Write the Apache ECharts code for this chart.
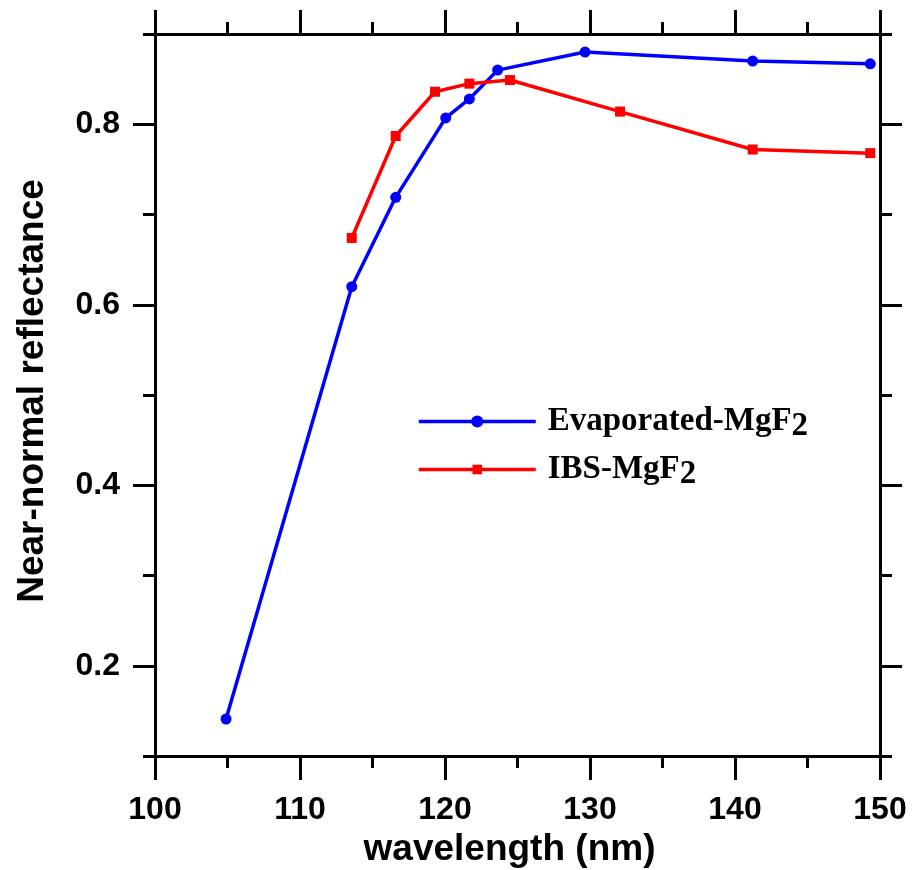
<!DOCTYPE html>
<html><head><meta charset="utf-8">
<script src="https://cdn.jsdelivr.net/npm/echarts@6/dist/echarts.min.js"></script>
<style>html,body{margin:0;padding:0;background:#fff}#c{width:915px;height:870px}</style>
</head><body><div id="c"></div>
<script>
const seriesNames = ['Evaporated-MgF2', 'IBS-MgF2'];
const evapWavelength = [104.9, 113.57, 116.6, 120.05, 121.68, 123.63, 129.66, 141.22, 149.33];
const evapReflectance = [0.141, 0.620, 0.719, 0.807, 0.828, 0.860, 0.880, 0.870, 0.867];
const ibsWavelength = [113.57, 116.6, 119.31, 121.68, 124.48, 132.07, 141.22, 149.33];
const ibsReflectance = [0.674, 0.787, 0.836, 0.845, 0.849, 0.814, 0.772, 0.768];
const yMajorTicks = [0.2, 0.4, 0.6, 0.8];
const yMinorTicks = [0.1, 0.3, 0.5, 0.7, 0.9];

const sans = "'Liberation Sans', Arial, sans-serif";
const serif = "'Liberation Serif', 'Times New Roman', serif";
const axisLine = {show: true, onZero: false, lineStyle: {color: '#000', width: 3}};
const pair = (xs, ys) => xs.map((x, i) => [x, ys[i]]);

const chart = echarts.init(document.getElementById('c'), null, {renderer: 'canvas'});
const legendRich = {
  a: {fontFamily: serif, fontWeight: 'bold', fontSize: 33, color: '#000', padding: [0, 0, 0, 7]},
  b: {fontFamily: serif, fontWeight: 'bold', fontSize: 33, color: '#000', padding: [10, 0, 0, 0]}
};
const legendFmt = n => '{a|' + n.slice(0, -1) + '}{b|' + n.slice(-1) + '}';
function yAx(pos, ticks, len, labels) {
  return {
    type: 'value', position: pos, min: 0.1, max: 0.9,
    axisLine: labels !== null ? axisLine : {show: false},
    axisTick: {show: true, customValues: ticks, length: len, lineStyle: {color: '#000', width: 3}},
    axisLabel: labels ? {show: true, customValues: ticks, formatter: v => v.toFixed(1), margin: 35,
      fontFamily: sans, fontWeight: 'bold', fontSize: 32, color: '#000'} : {show: false},
    splitLine: {show: false}
  };
}
function legendAt(name, top, h) {
  return {data: [name], orient: 'vertical', left: 417, top: top, padding: 0,
    itemWidth: 117, itemHeight: h, lineStyle: {width: 3.5},
    formatter: legendFmt, textStyle: {rich: legendRich}, selectedMode: false};
}
chart.setOption({
  animation: false,
  backgroundColor: '#fff',
  grid: {left: 155, right: 35, top: 34, bottom: 114, containLabel: false, outerBoundsMode: 'none'},
  xAxis: [
    {type: 'value', position: 'bottom', min: 100, max: 150, interval: 10,
     axisLine: axisLine,
     axisTick: {show: true, length: 24, lineStyle: {color: '#000', width: 3}},
     minorTick: {show: true, splitNumber: 2, length: 12, lineStyle: {color: '#000', width: 3}},
     axisLabel: {margin: 38, fontFamily: sans, fontWeight: 'bold', fontSize: 32, color: '#000'},
     splitLine: {show: false}, minorSplitLine: {show: false},
     name: 'wavelength (nm)', nameLocation: 'middle', nameGap: 73,
     nameTextStyle: {fontFamily: sans, fontWeight: 'bold', fontSize: 37, color: '#000', padding: [0, 16, 0, 0]}},
    {type: 'value', position: 'top', min: 100, max: 150, interval: 10,
     axisLine: axisLine,
     axisTick: {show: true, length: 24, lineStyle: {color: '#000', width: 3}},
     minorTick: {show: true, splitNumber: 2, length: 12, lineStyle: {color: '#000', width: 3}},
     axisLabel: {show: false}, splitLine: {show: false}, minorSplitLine: {show: false}}
  ],
  yAxis: [
    Object.assign(yAx('left', yMajorTicks, 22, true), {
      name: 'Near-normal reflectance', nameLocation: 'middle', nameGap: 104,
      nameTextStyle: {fontFamily: sans, fontWeight: 'bold', fontSize: 37, color: '#000', padding: [0, 0, 0, 8]}}),
    yAx('left', yMinorTicks, 12, null),
    yAx('right', yMajorTicks, 22, false),
    yAx('right', yMinorTicks, 12, null)
  ],
  legend: [
    legendAt(seriesNames[0], 405, 15),
    legendAt(seriesNames[1], 453, 12)
  ],
  series: [
    {name: seriesNames[0], type: 'line', data: pair(evapWavelength, evapReflectance),
     symbol: 'circle', symbolSize: 11, color: '#0000ff',
     lineStyle: {width: 3.5, color: '#0000ff'}, itemStyle: {color: '#0000ff'}},
    {name: seriesNames[1], type: 'line', data: pair(ibsWavelength, ibsReflectance),
     symbol: 'rect', symbolSize: 10, color: '#ff0000',
     lineStyle: {width: 3.5, color: '#ff0000'}, itemStyle: {color: '#ff0000'}}
  ]
});
</script></body></html>
